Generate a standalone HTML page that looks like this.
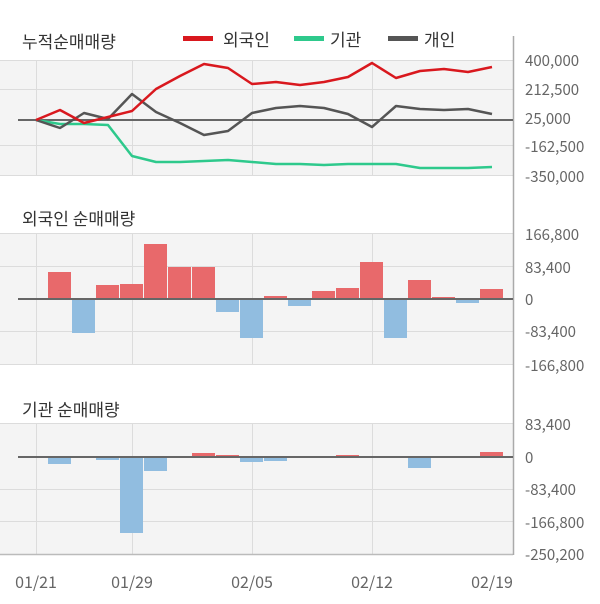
<!DOCTYPE html>
<html><head><meta charset="utf-8"><style>
html,body{margin:0;padding:0;background:#fff;}
svg{display:block;font-family:"Noto Sans CJK KR","Liberation Sans",sans-serif;}
</style></head><body>
<svg width="600" height="604" viewBox="0 0 600 604" xmlns="http://www.w3.org/2000/svg">
<rect x="0" y="60" width="513" height="116" fill="#f4f4f4"/>
<rect x="0" y="233" width="513" height="132" fill="#f4f4f4"/>
<rect x="0" y="423" width="513" height="131" fill="#f4f4f4"/>
<g stroke="#dcdcdc" stroke-width="1">
<line x1="0" y1="60.5" x2="513" y2="60.5"/><line x1="0" y1="89.5" x2="513" y2="89.5"/><line x1="0" y1="145.5" x2="513" y2="145.5"/><line x1="0" y1="175.5" x2="513" y2="175.5"/>
<line x1="0" y1="233.5" x2="513" y2="233.5"/><line x1="0" y1="266.5" x2="513" y2="266.5"/><line x1="0" y1="331.5" x2="513" y2="331.5"/><line x1="0" y1="364.5" x2="513" y2="364.5"/>
<line x1="0" y1="423.5" x2="513" y2="423.5"/><line x1="0" y1="489.5" x2="513" y2="489.5"/><line x1="0" y1="521.5" x2="513" y2="521.5"/>
<line x1="36.5" y1="60" x2="36.5" y2="176"/><line x1="132.5" y1="60" x2="132.5" y2="176"/><line x1="252.5" y1="60" x2="252.5" y2="176"/><line x1="372.5" y1="60" x2="372.5" y2="176"/>
<line x1="36.5" y1="233" x2="36.5" y2="365"/><line x1="132.5" y1="233" x2="132.5" y2="365"/><line x1="252.5" y1="233" x2="252.5" y2="365"/><line x1="372.5" y1="233" x2="372.5" y2="365"/>
<line x1="36.5" y1="423" x2="36.5" y2="554"/><line x1="132.5" y1="423" x2="132.5" y2="554"/><line x1="252.5" y1="423" x2="252.5" y2="554"/><line x1="372.5" y1="423" x2="372.5" y2="554"/>
</g>
<line x1="0" y1="554.5" x2="513" y2="554.5" stroke="#bbb" stroke-width="1.5"/>
<line x1="513.5" y1="36" x2="513.5" y2="555" stroke="#aaa" stroke-width="1.5"/>

<line x1="18" y1="120" x2="513" y2="120" stroke="#666" stroke-width="2"/>
<polyline fill="none" stroke="#2ec98c" stroke-width="2.5" stroke-linejoin="round" points="36,120 60,124 84,124 108,125 132,156 156,162 180,162 204,161 228,160 252,162 276,164 300,164 324,165 348,164 372,164 396,164 420,168 444,168 468,168 492,167"/>
<polyline fill="none" stroke="#555" stroke-width="2.5" stroke-linejoin="round" points="36,120 60,128 84,113 108,119 132,94 156,112 180,123 204,135 228,131 252,113 276,108 300,106 324,108 348,114 372,127 396,106 420,109 444,110 468,109 492,114"/>
<polyline fill="none" stroke="#d9181e" stroke-width="2.5" stroke-linejoin="round" points="36,120 60,110 84,123 108,117 132,111 156,89 180,76 204,64 228,68 252,84 276,82 300,85 324,82 348,77 372,63 396,78 420,71 444,69 468,72 492,67"/>

<g fill="#e8696b">
<rect x="48" y="272" width="23" height="27"/><rect x="96" y="285" width="23" height="14"/><rect x="120" y="284" width="23" height="15"/><rect x="144" y="244" width="23" height="55"/><rect x="168" y="267" width="23" height="32"/><rect x="192" y="267" width="23" height="32"/><rect x="264" y="296" width="23" height="3"/><rect x="312" y="291" width="23" height="8"/><rect x="336" y="288" width="23" height="11"/><rect x="360" y="262" width="23" height="37"/><rect x="408" y="280" width="23" height="19"/><rect x="432" y="297" width="23" height="2"/><rect x="480" y="289" width="23" height="10"/>
</g>
<g fill="#91bde0">
<rect x="72" y="299" width="23" height="34"/><rect x="216" y="299" width="23" height="13"/><rect x="240" y="299" width="23" height="39"/><rect x="288" y="299" width="23" height="7"/><rect x="384" y="299" width="23" height="39"/><rect x="456" y="299" width="23" height="4"/>
</g>
<line x1="18" y1="299" x2="513" y2="299" stroke="#666" stroke-width="2"/>

<g fill="#e8696b">
<rect x="192" y="453" width="23" height="4"/><rect x="216" y="455" width="23" height="2"/><rect x="336" y="455" width="23" height="2"/><rect x="480" y="452" width="23" height="5"/>
</g>
<g fill="#91bde0">
<rect x="48" y="457" width="23" height="7"/><rect x="96" y="457" width="23" height="3"/><rect x="120" y="457" width="23" height="76"/><rect x="144" y="457" width="23" height="14"/><rect x="240" y="457" width="23" height="5"/><rect x="264" y="457" width="23" height="4"/><rect x="408" y="457" width="23" height="11"/>
</g>
<line x1="18" y1="457" x2="513" y2="457" stroke="#666" stroke-width="2"/>

<g fill="#333" font-size="17">
<text x="22" y="48">누적순매매량</text>
<text x="22" y="225">외국인 순매매량</text>
<text x="22" y="416">기관 순매매량</text>
<text x="223" y="46">외국인</text>
<text x="330" y="46">기관</text>
<text x="424" y="46">개인</text>
</g>
<rect x="183" y="36" width="30" height="5" fill="#d9181e"/>
<rect x="294" y="36" width="30" height="5" fill="#2ec98c"/>
<rect x="388" y="36" width="30" height="5" fill="#555"/>

<g fill="#666" font-size="15">
<text x="525" y="66">400,000</text><text x="525" y="95">212,500</text><text x="525" y="124">25,000</text><text x="525" y="152">-162,500</text><text x="525" y="182">-350,000</text>
<text x="525" y="240">166,800</text><text x="525" y="273">83,400</text><text x="525" y="305">0</text><text x="525" y="337">-83,400</text><text x="525" y="371">-166,800</text>
<text x="525" y="430">83,400</text><text x="525" y="463">0</text><text x="525" y="495">-83,400</text><text x="525" y="528">-166,800</text><text x="525" y="560">-250,200</text>
</g>
<g fill="#666" font-size="16" text-anchor="middle">
<text x="36" y="588">01/21</text><text x="132" y="588">01/29</text><text x="252" y="588">02/05</text><text x="372" y="588">02/12</text><text x="492" y="588">02/19</text>
</g>
</svg>
</body></html>
